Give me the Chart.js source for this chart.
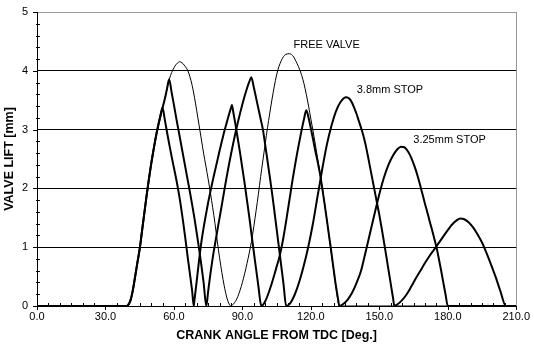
<!DOCTYPE html>
<html>
<head>
<meta charset="utf-8">
<script src="https://cdn.jsdelivr.net/npm/chart.js@4.4.1/dist/chart.umd.min.js"></script>
<style>
  html, body { margin: 0; padding: 0; background: #fff; }
</style>
</head>
<body>
<canvas id="chart" width="534" height="345"></canvas>
<script>
// Valve lift vs crank angle
const freeAngle = [0, 39.5, 40, 41, 42, 43, 44, 45, 46, 47, 48, 49, 50, 51, 52, 53, 54, 55, 56, 57, 58, 59, 60, 61, 62, 62.6,
  63, 64, 65, 66, 67, 68, 69, 70, 71, 72, 73, 74, 75, 76, 77, 78, 79, 80, 81, 82, 83, 84, 84.9,
  86, 87, 88, 89, 90, 91, 92, 93, 94, 95, 96, 97, 98, 99, 100, 101, 102, 103, 104, 105, 106, 107, 108, 109, 110.7,
  112, 113, 114, 115, 116, 117, 118, 119, 120, 121, 122, 123, 124, 125, 126, 127, 128, 129, 130, 131, 132.5, 210];
const freeLift = [0, 0, 0.02, 0.1, 0.27, 0.5, 0.74, 0.97, 1.27, 1.57, 1.87, 2.15, 2.41, 2.64, 2.86, 3.05, 3.22, 3.37, 3.52, 3.7, 3.86, 3.97, 4.05, 4.11, 4.145, 4.155,
  4.15, 4.12, 4.07, 4.01, 3.9, 3.75, 3.55, 3.32, 3.08, 2.84, 2.6, 2.38, 2.16, 1.92, 1.67, 1.4, 1.1, 0.82, 0.57, 0.35, 0.17, 0.05, 0,
  0.03, 0.08, 0.16, 0.27, 0.4, 0.55, 0.72, 0.9, 1.1, 1.35, 1.62, 1.9, 2.2, 2.48, 2.76, 3.03, 3.28, 3.52, 3.74, 3.93, 4.07, 4.17, 4.24, 4.28, 4.29,
  4.26, 4.2, 4.12, 4.03, 3.92, 3.78, 3.6, 3.4, 3.18, 2.97, 2.74, 2.5, 2.27, 2.02, 1.75, 1.47, 1.18, 0.89, 0.6, 0.32, 0, 0];

const stop38Angle = [0, 39.5, 40, 41, 42, 43, 44, 45, 46, 47, 48, 49, 50, 51, 52, 53, 54, 55, 56, 57, 57.9,
  59, 60, 61, 62, 63, 64, 65, 66, 67, 68, 69, 70, 71, 72, 73, 74.2,
  75, 76, 77, 78, 79, 80, 81, 82, 83, 84, 85, 86, 87, 88, 89, 90, 91, 92, 93, 93.9,
  95, 96, 97, 98, 99, 100, 101, 102, 103, 104, 105, 106, 107, 108, 109.2,
  111, 113, 115, 117, 119, 121, 123, 124, 125, 127, 129, 131, 133, 135.5,
  137, 138, 139, 140, 141, 142, 143, 144, 145, 146, 147, 148, 149, 150, 151, 152, 153, 154, 155, 156, 156.6,
  158, 160, 162, 164, 166, 168, 170, 172, 174, 176, 178, 180, 182, 184, 185.5,
  187, 189, 191, 193, 195, 197, 199, 201, 203, 205.5, 210];
const stop38Lift = [0, 0, 0.02, 0.1, 0.27, 0.5, 0.74, 0.97, 1.27, 1.57, 1.87, 2.15, 2.41, 2.64, 2.86, 3.05, 3.22, 3.37, 3.52, 3.7, 3.855,
  3.63, 3.42, 3.2, 2.99, 2.78, 2.57, 2.36, 2.15, 1.94, 1.72, 1.49, 1.24, 0.98, 0.7, 0.4, 0,
  0.25, 0.55, 0.82, 1.05, 1.28, 1.5, 1.72, 1.95, 2.17, 2.38, 2.58, 2.77, 2.95, 3.12, 3.28, 3.43, 3.57, 3.7, 3.81, 3.89,
  3.72, 3.54, 3.36, 3.18, 3.0, 2.74, 2.47, 2.2, 1.92, 1.62, 1.31, 1.0, 0.69, 0.38, 0,
  0.05, 0.2, 0.42, 0.7, 1.03, 1.42, 1.88, 2.1, 2.33, 2.74, 3.06, 3.31, 3.47, 3.55,
  3.52, 3.46, 3.37, 3.27, 3.15, 3.03, 2.9, 2.74, 2.55, 2.35, 2.15, 1.95, 1.75, 1.55, 1.33, 1.1, 0.86, 0.62, 0.38, 0.14, 0,
  0.03, 0.1, 0.2, 0.33, 0.47, 0.6, 0.73, 0.85, 0.96, 1.07, 1.18, 1.29, 1.39, 1.46, 1.49,
  1.48, 1.43, 1.34, 1.22, 1.08, 0.9, 0.7, 0.49, 0.26, 0, 0];

const stop325Angle = [0, 39.5, 40, 41, 42, 43, 44, 45, 46, 47, 48, 49, 50, 51, 52, 53, 54, 55,
  56, 57, 58, 59, 60, 61, 62, 63, 64, 65, 66, 67, 68, 68.7,
  69, 70, 71, 72, 73, 74, 75, 76, 77, 78, 79, 80, 81, 82, 83, 84, 85, 85.4,
  86, 87, 88, 89, 90, 91, 92, 93, 94, 95, 96, 97, 98.3,
  99, 100, 101, 102, 103, 104, 105, 106, 107, 108, 109, 110, 111, 112, 113, 114, 115, 116, 117, 118,
  119, 120, 121, 122, 123, 124, 125, 126, 127, 128, 129, 130, 131, 132, 132.5,
  134, 136, 138, 140, 142, 144, 146, 148, 150, 152, 154, 156, 158, 159.5,
  161, 162, 163, 164, 165, 166, 167, 168, 169, 170, 171, 172, 173, 174, 175, 176, 177, 178, 179, 180, 210];
const stop325Lift = [0, 0, 0.02, 0.1, 0.27, 0.5, 0.74, 0.97, 1.27, 1.57, 1.87, 2.15, 2.41, 2.64, 2.86, 3.05, 3.22, 3.37,
  3.17, 2.95, 2.74, 2.54, 2.35, 2.16, 1.95, 1.71, 1.44, 1.15, 0.84, 0.55, 0.25, 0,
  0.1, 0.43, 0.77, 1.08, 1.33, 1.55, 1.76, 1.95, 2.13, 2.3, 2.47, 2.64, 2.8, 2.96, 3.1, 3.24, 3.37, 3.42,
  3.3, 3.08, 2.84, 2.6, 2.34, 2.08, 1.8, 1.52, 1.22, 0.92, 0.63, 0.34, 0,
  0.02, 0.08, 0.17, 0.28, 0.4, 0.53, 0.67, 0.8, 0.97, 1.17, 1.4, 1.65, 1.9, 2.15, 2.38, 2.6, 2.8, 3.0, 3.18, 3.33,
  3.2, 3.02, 2.83, 2.63, 2.45, 2.25, 2.0, 1.74, 1.47, 1.19, 0.91, 0.62, 0.34, 0.1, 0,
  0.03, 0.1, 0.22, 0.39, 0.6, 0.92, 1.25, 1.58, 1.9, 2.18, 2.4, 2.56, 2.67, 2.71,
  2.7, 2.66, 2.6, 2.52, 2.42, 2.31, 2.18, 2.04, 1.89, 1.74, 1.6, 1.45, 1.31, 1.16, 1.01, 0.82, 0.62, 0.41, 0.2, 0, 0];

const xTickValues = [0, 30, 60, 90, 120, 150, 180, 210];
const yTickValues = [0, 1, 2, 3, 4, 5];
const curveNotes = ['FREE VALVE', '3.8mm STOP', '3.25mm STOP'];

function pairs(xs, ys) {
  return xs.map((x, i) => ({x: x, y: ys[i]}));
}

const FONT = 'Arial, "Liberation Sans", sans-serif';

// minor/major tick marks, and the text next to the curves
const decorations = {
  id: 'decorations',
  afterDraw(chart) {
    const ctx = chart.ctx;
    const xs = chart.scales.x, ys = chart.scales.y;
    const area = chart.chartArea;
    ctx.save();
    ctx.strokeStyle = '#000';
    ctx.lineWidth = 1;
    ctx.beginPath();
    for (let v = 0; v <= 210; v += 5) {
      const px = Math.round(xs.getPixelForValue(v)) + 0.5;
      if (v % 30 === 0) {
        ctx.moveTo(px, area.bottom);
        ctx.lineTo(px, area.bottom + 4);
      } else {
        ctx.moveTo(px, area.bottom - 3);
        ctx.lineTo(px, area.bottom);
      }
    }
    for (let i = 0; i <= 25; i++) {
      const py = Math.round(ys.getPixelForValue(i / 5)) + 0.5;
      if (i % 5 === 0) {
        ctx.moveTo(area.left - 4, py);
        ctx.lineTo(area.left, py);
      } else {
        ctx.moveTo(area.left - 1, py);
        ctx.lineTo(area.left + 3, py);
      }
    }
    ctx.stroke();

    const spots = [[112.4, 4.44], [140.1, 3.67], [164.9, 2.82]];
    ctx.fillStyle = '#000';
    ctx.font = '11px ' + FONT;
    ctx.textAlign = 'left';
    ctx.textBaseline = 'middle';
    curveNotes.forEach((t, i) => {
      ctx.fillText(t, xs.getPixelForValue(spots[i][0]), ys.getPixelForValue(spots[i][1]));
    });
    ctx.restore();
  }
};

const thick = {borderColor: '#000', borderWidth: 2, pointRadius: 0, cubicInterpolationMode: 'monotone', fill: false};

new Chart(document.getElementById('chart'), {
  type: 'line',
  data: {
    datasets: [
      Object.assign({label: '3.25mm STOP', data: pairs(stop325Angle, stop325Lift)}, thick),
      Object.assign({label: '3.8mm STOP', data: pairs(stop38Angle, stop38Lift)}, thick),
      {label: 'FREE VALVE', data: pairs(freeAngle, freeLift), borderColor: '#000', borderWidth: 1,
        pointRadius: 0, cubicInterpolationMode: 'monotone', fill: false}
    ]
  },
  options: {
    responsive: false,
    animation: false,
    layout: {padding: {left: 0, top: 12, right: 17, bottom: 0}},
    plugins: {legend: {display: false}, tooltip: {enabled: false}},
    scales: {
      x: {
        type: 'linear', min: 0, max: 210,
        afterBuildTicks: s => { s.ticks = xTickValues.map(v => ({value: v})); },
        afterFit: s => { s.height = 39; },
        ticks: {color: '#000', font: {family: FONT, size: 11}, padding: 4,
          callback: v => Number(v).toFixed(1), maxRotation: 0, autoSkip: false},
        grid: {drawTicks: false, lineWidth: 1,
          color: c => (c.tick && c.tick.value === 210) ? '#999' : 'rgba(0,0,0,0)'},
        border: {color: '#000', width: 1},
        title: {display: true, text: 'CRANK ANGLE FROM TDC [Deg.]', color: '#000',
          font: {family: FONT, size: 12.5, weight: 'bold', lineHeight: 1.2}, padding: {top: 0, bottom: 1.5}}
      },
      y: {
        min: 0, max: 5,
        afterBuildTicks: s => { s.ticks = yTickValues.map(v => ({value: v})); },
        afterFit: s => { s.width = 37; },
        ticks: {color: '#000', font: {family: FONT, size: 11}, padding: 5},
        grid: {drawTicks: true, tickLength: 4, tickColor: 'rgba(0,0,0,0)', lineWidth: 1,
          color: c => {
            const v = c.tick ? c.tick.value : 0;
            if (v === 5) return '#999';
            if (v === 0) return 'rgba(0,0,0,0)';
            return '#000';
          }},
        border: {color: '#000', width: 1},
        title: {display: true, text: 'VALVE LIFT [mm]', color: '#000',
          font: {family: FONT, size: 12.5, weight: 'bold', lineHeight: 1.2}, padding: {top: 2.5, bottom: 0}}
      }
    }
  },
  plugins: [decorations]
});
</script>
</body>
</html>
